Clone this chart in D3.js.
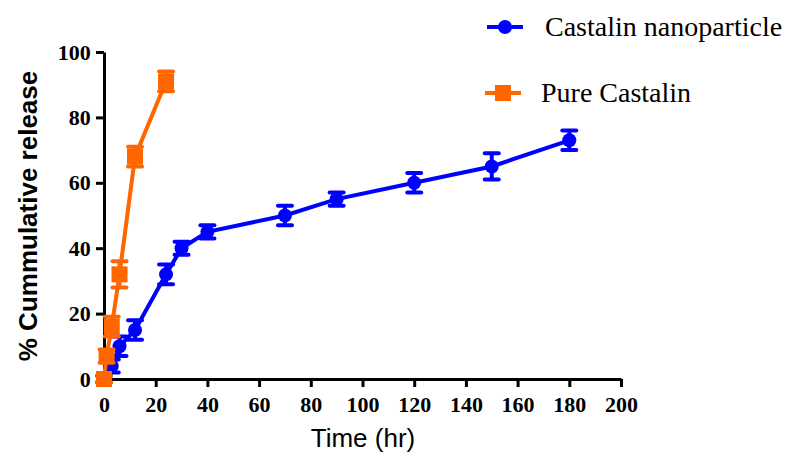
<!DOCTYPE html>
<html>
<head>
<meta charset="utf-8">
<script src="https://cdn.jsdelivr.net/npm/d3@7"></script>
<style>
  body { margin: 0; background: #fff; }
</style>
</head>
<body>
<svg></svg>
<script>
const width = 790;
const height = 454;

// DATA
const nanoTime = [0, 3, 6, 12, 24, 30, 40, 70, 90, 120, 150, 180];
const nanoRelease = [0, 4, 10, 15, 32, 40, 45, 50, 55, 60, 65, 73];
const nanoSD = [1, 2, 3, 3, 3, 2, 2, 3, 2, 3, 4, 3];

const pureTime = [0, 1, 3, 6, 12, 24];
const pureRelease = [0, 7, 16, 32, 68, 91];
const pureSD = [1, 2, 3, 4, 3, 3];

const xTicks = [0, 20, 40, 60, 80, 100, 120, 140, 160, 180, 200];
const yTicks = [0, 20, 40, 60, 80, 100];

const seriesNames = ['Castalin nanoparticle', 'Pure Castalin'];

const blue = '#0000ff';
const orange = '#ff6600';

const nano = nanoTime.map((t, i) => ({t, v: nanoRelease[i], sd: nanoSD[i]}));
const pure = pureTime.map((t, i) => ({t, v: pureRelease[i], sd: pureSD[i]}));

// SCALES
const xScale = d3.scaleLinear().domain([0, 200]).range([104, 621]);
const yScale = d3.scaleLinear().domain([0, 100]).range([379, 52]);

const svg = d3.select('svg')
    .attr('width', width)
    .attr('height', height);

// AXES
const xAxis = d3.axisBottom(xScale).tickValues(xTicks).tickSize(8).tickSizeOuter(0);
const yAxis = d3.axisLeft(yScale).tickValues(yTicks).tickSize(8).tickSizeOuter(0);

const gx = svg.append('g')
    .attr('transform', `translate(0, ${yScale(0)})`)
    .call(xAxis);
const gy = svg.append('g')
    .attr('transform', `translate(${xScale(0)}, 0)`)
    .call(yAxis);

[gx, gy].forEach(g => {
  g.select('.domain').attr('stroke', '#000').attr('stroke-width', 3);
  g.selectAll('.tick line').attr('stroke', '#000').attr('stroke-width', 3);
  g.selectAll('.tick text')
    .attr('fill', '#000')
    .style('font-family', '"Liberation Serif", "Times New Roman", serif')
    .style('font-weight', 'bold')
    .style('font-size', '22px');
});
gx.selectAll('.tick text').attr('dy', '1.0em');
gy.selectAll('.tick text').attr('dx', '-0.1em');

// AXIS TITLES
svg.append('text')
    .attr('x', 363)
    .attr('y', 447)
    .style('text-anchor', 'middle')
    .style('font-family', '"Liberation Sans", Arial, sans-serif')
    .style('font-size', '26px')
    .text('Time (hr)');

svg.append('text')
    .attr('transform', 'rotate(-90)')
    .attr('x', -216)
    .attr('y', 37)
    .style('text-anchor', 'middle')
    .style('font-family', '"Liberation Sans", Arial, sans-serif')
    .style('font-weight', 'bold')
    .style('font-size', '26px')
    .text('% Cummulative release');

// SERIES
const line = d3.line().x(d => xScale(d.t)).y(d => yScale(d.v));

function drawSeries(data, color, shape) {
  const g = svg.append('g');
  g.append('path')
      .datum(data)
      .attr('d', line)
      .attr('fill', 'none')
      .attr('stroke', color)
      .attr('stroke-width', 4);

  const eb = g.selectAll('.eb').data(data).enter().append('g');
  eb.append('line')
      .attr('x1', d => xScale(d.t)).attr('x2', d => xScale(d.t))
      .attr('y1', d => yScale(d.v - d.sd)).attr('y2', d => yScale(d.v + d.sd))
      .attr('stroke', color).attr('stroke-width', 4);
  [-1, 1].forEach(s => {
    eb.append('line')
        .attr('x1', d => xScale(d.t) - 7).attr('x2', d => xScale(d.t) + 7)
        .attr('y1', d => yScale(d.v + s * d.sd)).attr('y2', d => yScale(d.v + s * d.sd))
        .attr('stroke', color).attr('stroke-width', 4).attr('stroke-linecap', 'round');
  });

  if (shape === 'circle') {
    g.selectAll('circle').data(data).enter().append('circle')
        .attr('cx', d => xScale(d.t))
        .attr('cy', d => yScale(d.v))
        .attr('r', 7)
        .attr('fill', color);
  } else {
    g.selectAll('rect.m').data(data).enter().append('rect')
        .attr('x', d => xScale(d.t) - 8)
        .attr('y', d => yScale(d.v) - 8)
        .attr('width', 16).attr('height', 16)
        .attr('fill', color);
  }
}

drawSeries(nano, blue, 'circle');
drawSeries(pure, orange, 'square');

// LEGEND
const legend = [
  {name: seriesNames[0], color: blue, shape: 'circle', y: 27, x: 487, tx: 545},
  {name: seriesNames[1], color: orange, shape: 'square', y: 93, x: 485, tx: 541}
];
legend.forEach(l => {
  svg.append('line')
      .attr('x1', l.x).attr('x2', l.x + 36)
      .attr('y1', l.y).attr('y2', l.y)
      .attr('stroke', l.color).attr('stroke-width', 4);
  if (l.shape === 'circle') {
    svg.append('circle').attr('cx', l.x + 18).attr('cy', l.y).attr('r', 7).attr('fill', l.color);
  } else {
    svg.append('rect').attr('x', l.x + 10).attr('y', l.y - 8).attr('width', 16).attr('height', 16).attr('fill', l.color);
  }
  svg.append('text')
      .attr('x', l.tx)
      .attr('y', l.y + 9)
      .style('font-family', '"Liberation Serif", "Times New Roman", serif')
      .style('font-size', '28px')
      .text(l.name);
});
</script>
</body>
</html>
